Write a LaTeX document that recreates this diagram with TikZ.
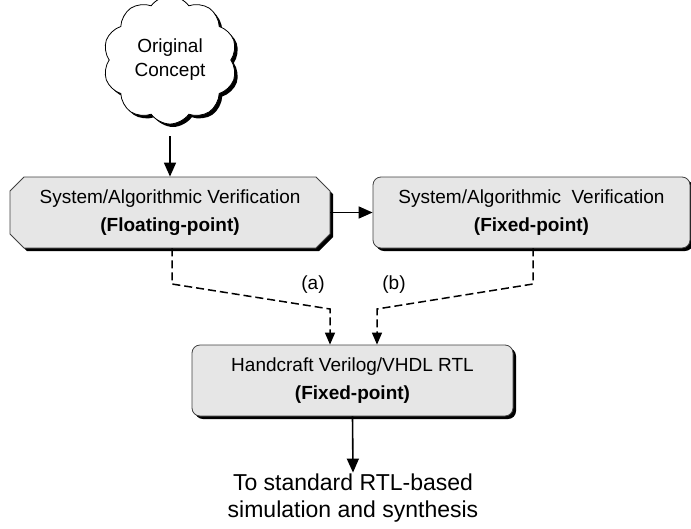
\documentclass[tikz,border=0pt]{standalone}
\usepackage{fontspec}
\setmainfont{Liberation Sans}
\usetikzlibrary{shapes.misc,shapes.symbols,shadows,arrows.meta}
\definecolor{boxgray}{HTML}{E6E6E6}
\begin{document}
\begin{tikzpicture}[x=1pt,y=-1pt,
  shad/.style={drop shadow={shadow xshift=3pt, shadow yshift=-3pt, opacity=1, fill=black}},
  box/.style={draw=black!75, line width=0.8pt, fill=boxgray, align=center,
    minimum height=71pt, inner sep=2pt, font=\fontsize{19}{28}\selectfont, shad},
  roundbox/.style={box, rectangle, rounded corners=8pt},
  arr/.style={-{Triangle[length=14pt,width=12pt]}, line width=1.6pt},
  dline/.style={-{Triangle[length=12pt,width=10pt]}, line width=1.5pt, dash pattern=on 8pt off 4pt},
  lbl/.style={font=\fontsize{19}{22}\selectfont, inner sep=1pt}
]
\useasboundingbox (0,0) rectangle (691,528);

\node[cloud, cloud puffs=10, cloud puff arc=110, aspect=1.1, draw=black, line width=0.8pt, fill=white,
  minimum width=134pt, minimum height=128pt, inner sep=0pt, align=center,
  font=\fontsize{19}{24}\selectfont, shad] (c) at (170,60) {Original\\Concept};

\node[box, chamfered rectangle, chamfered rectangle xsep=7pt, chamfered rectangle ysep=7pt,
  minimum width=320pt] (b1) at (170,212.5)
  {System/Algorithmic Verification\\\textbf{(Floating-point)}};
\node[roundbox, minimum width=317pt] (b2) at (531.5,212.5)
  {System/Algorithmic\ \ Verification\\\textbf{(Fixed-point)}};
\node[roundbox, minimum width=321pt] (b3) at (352.5,380.5)
  {Handcraft Verilog/VHDL RTL\\\textbf{(Fixed-point)}};

\node[align=center, font=\fontsize{23}{27}\selectfont, inner sep=1pt] (t) at (353,498)
  {To standard RTL-based\\simulation and synthesis};

\node[lbl] (la) at (313,285) {(a)};
\node[lbl] (lb) at (394,285) {(b)};

\coordinate (a1) at (172,284);
\coordinate (a2) at (330,309);
\coordinate (bb1) at (533,284);
\coordinate (bb2) at (377,309);

\draw[arr, shorten <=12pt] (c.south) -- (b1.north);
\draw[arr] (b1.east) -- (b2.west);
\draw[dline] (b1.south -| a1) -- (a1) -- (a2) -- (a2 |- b3.north);
\draw[dline] (b2.south -| bb1) -- (bb1) -- (bb2) -- (bb2 |- b3.north);
\draw[arr] (b3.south) -- (t.north);
\end{tikzpicture}
\end{document}
